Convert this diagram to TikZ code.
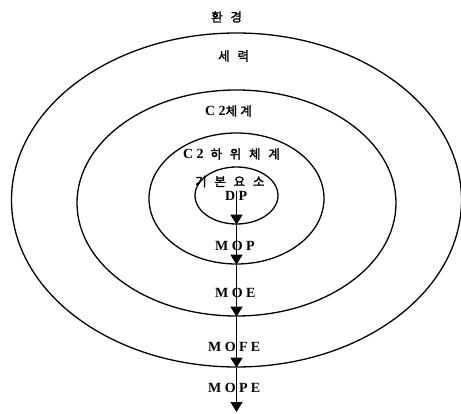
\documentclass[tikz,border=0pt]{standalone}
\usepackage{fontspec}
\setmainfont{Liberation Serif}
\newfontfamily\krw{Noto Sans CJK KR}[LetterSpace=62,FakeBold=2]
\newfontfamily\krn{Noto Sans CJK KR}[LetterSpace=25,FakeBold=2]
\newfontfamily\latw{Liberation Serif}[LetterSpace=24]
\usetikzlibrary{arrows.meta,shapes.geometric}
\begin{document}
\begin{tikzpicture}[x=1pt,y=-1pt,
  ring/.style={ellipse, draw, line width=1.3pt, inner sep=0pt},
  krlbl/.style={anchor=west, inner sep=0pt, font=\krw\fontsize{12.5}{12.5}\selectfont},
  latlbl/.style={anchor=west, inner sep=0pt, font=\latw\fontsize{14}{14}\selectfont\bfseries},
  flow/.style={line width=1.4pt, -{Triangle[length=10pt,width=12pt]}}]
\useasboundingbox (0,0) rectangle (461,414);
% rings
\node[ring, minimum width=450pt, minimum height=334pt] (outer) at (236.5,200) {};
\node[ring, minimum width=319pt, minimum height=226pt] (c2) at (236.5,203) {};
\node[ring, minimum width=175pt, minimum height=131pt] (sub) at (236.5,198.5) {};
\node[ring, minimum width=83pt, minimum height=57pt] (inner) at (236.5,195.5) {};
% labels
\node[krlbl] (env) at (211,17) {환경};
\node[krlbl] (force) at (218,56) {세력};
\node[anchor=west, inner sep=0pt] (c2lbl) at (205,111)
  {{\latw\fontsize{14}{14}\selectfont\bfseries C2}{\krn\fontsize{12.5}{12.5}\selectfont 체계}};
\node[anchor=west, inner sep=0pt] (sublbl) at (183,154)
  {{\latw\fontsize{14}{14}\selectfont\bfseries C2 }{\krw\fontsize{12.5}{12.5}\selectfont 하위체계}};
\node[krlbl] (basic) at (195,181.5) {기본요소};
\node[latlbl] (dp) at (225,195.5) {DP};
\node[latlbl] (mop) at (215,246) {MOP};
\node[latlbl] (moe) at (215,293) {MOE};
\node[latlbl] (mofe) at (208,347) {MOFE};
\node[latlbl] (mope) at (208,388) {MOPE};
% arrows
\coordinate (start) at (236.5,191);
\coordinate (end) at (236.5,412);
\draw[flow] (start) -- (inner.south);
\draw[flow] (inner.south) -- (sub.south);
\draw[flow] (sub.south) -- (c2.south);
\draw[flow] (c2.south) -- (outer.south);
\draw[flow] (outer.south) -- (end);
\end{tikzpicture}
\end{document}
